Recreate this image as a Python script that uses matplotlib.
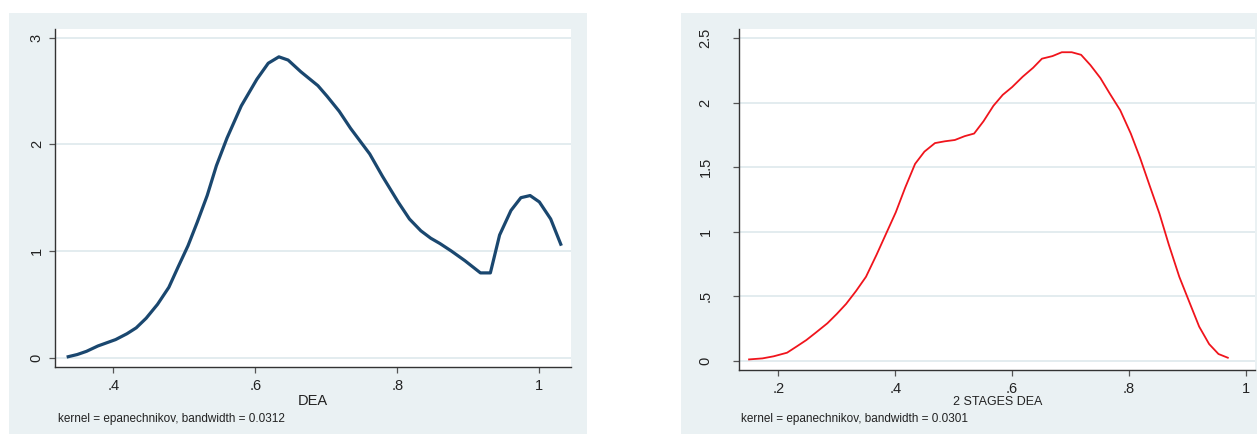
import matplotlib.pyplot as plt
from matplotlib.patches import Rectangle

plt.rcParams['font.family'] = ['Liberation Sans', 'DejaVu Sans']

# Densidad kernel de la eficiencia DEA (una etapa)
dea_x = [0.334, 0.349, 0.362, 0.378, 0.403, 0.419, 0.432, 0.446, 0.462, 0.478,
         0.491, 0.505, 0.518, 0.532, 0.545, 0.560, 0.580, 0.602, 0.618, 0.633,
         0.646, 0.664, 0.688, 0.701, 0.718, 0.734, 0.761, 0.779, 0.801, 0.817,
         0.833, 0.847, 0.860, 0.876, 0.895, 0.917, 0.931, 0.944, 0.960, 0.974,
         0.987, 1.000, 1.016, 1.031]
dea_y = [0.006, 0.03, 0.06, 0.11, 0.17, 0.225, 0.28, 0.37, 0.50, 0.66,
         0.85, 1.05, 1.27, 1.52, 1.80, 2.06, 2.36, 2.61, 2.76, 2.82,
         2.79, 2.68, 2.55, 2.45, 2.31, 2.15, 1.91, 1.70, 1.46, 1.30,
         1.19, 1.12, 1.07, 1.00, 0.91, 0.795, 0.795, 1.15, 1.38, 1.50,
         1.52, 1.46, 1.30, 1.05]

# Densidad kernel de la eficiencia DEA en dos etapas
dea2_x = [0.150, 0.173, 0.192, 0.215, 0.231, 0.248, 0.264, 0.284, 0.300, 0.316,
          0.333, 0.350, 0.368, 0.385, 0.401, 0.417, 0.434, 0.450, 0.468, 0.485,
          0.502, 0.519, 0.535, 0.551, 0.568, 0.584, 0.600, 0.618, 0.636, 0.651,
          0.669, 0.685, 0.702, 0.718, 0.734, 0.751, 0.767, 0.785, 0.803, 0.819,
          0.835, 0.852, 0.868, 0.886, 0.904, 0.920, 0.937, 0.953, 0.969]
dea2_y = [0.01, 0.018, 0.034, 0.062, 0.109, 0.16, 0.217, 0.29, 0.362, 0.44,
          0.54, 0.65, 0.82, 0.99, 1.15, 1.34, 1.525, 1.62, 1.686, 1.70,
          1.71, 1.74, 1.76, 1.855, 1.975, 2.06, 2.12, 2.20, 2.27, 2.34,
          2.36, 2.39, 2.39, 2.37, 2.29, 2.19, 2.07, 1.94, 1.76, 1.57,
          1.36, 1.14, 0.90, 0.65, 0.445, 0.264, 0.129, 0.052, 0.023]

left_xticks = [0.4, 0.6, 0.8, 1.0]
left_xlabels = ['.4', '.6', '.8', '1']
left_yticks = [0, 1, 2, 3]
left_ylabels = ['0', '1', '2', '3']
right_xticks = [0.2, 0.4, 0.6, 0.8, 1.0]
right_xlabels = ['.2', '.4', '.6', '.8', '1']
right_yticks = [0, 0.5, 1, 1.5, 2, 2.5]
right_ylabels = ['0', '.5', '1', '1.5', '2', '2.5']

W, H = 1257, 434
BG = '#EAF1F3'
GRID = '#E3ECEF'
AXC = '#333333'

fig = plt.figure(figsize=(W / 100, H / 100), dpi=100, facecolor='white')

# Fondos de cada gráfico (en píxeles), por debajo de los ejes
for x0, x1 in [(9, 587), (681, 1262)]:
    fig.patches.append(Rectangle((x0 / W, 0), (x1 - x0) / W, (434 - 13) / H,
                                 transform=fig.transFigure, facecolor=BG,
                                 edgecolor='none', zorder=-10))


def make_axes(l, r, t, b):
    ax = fig.add_axes([l / W, (H - b) / H, (r - l) / W, (b - t) / H])
    ax.set_zorder(1)
    ax.set_facecolor('white')
    for s in ['top', 'right']:
        ax.spines[s].set_visible(False)
    for s in ['left', 'bottom']:
        ax.spines[s].set_color(AXC)
        ax.spines[s].set_linewidth(1.0)
    ax.tick_params(length=4.3, width=0.9, color='#555555', labelcolor='#222222',
                   labelsize=10.5)
    ax.grid(axis='y', color=GRID, linewidth=1.4)
    ax.set_axisbelow(True)
    return ax


ax1 = make_axes(55.3, 571, 29, 367)
ax1.plot(dea_x, dea_y, color='#1A476F', linewidth=2.3, solid_capstyle='butt')
ax1.set_xlim(0.318, 1.0446)
ax1.set_ylim(-0.087, 3.081)
ax1.set_xticks(left_xticks, left_xlabels)
ax1.set_yticks(left_yticks, left_ylabels, rotation=90, va='center')
ax1.tick_params(axis='y', pad=4)
ax1.tick_params(axis='x', pad=4)
ax1.set_xlabel('DEA', fontsize=10.5, labelpad=1, color='#222222')
fig.text(58 / W, 1 - 419 / H, 'kernel = epanechnikov, bandwidth = 0.0312',
         fontsize=8.5, va='center', ha='left', color='#222222')

ax2 = make_axes(739.3, 1255.3, 29, 370)
ax2.plot(dea2_x, dea2_y, color='#F0141C', linewidth=1.3)
ax2.set_xlim(0.1333, 1.016)
ax2.set_ylim(-0.072, 2.57)
ax2.set_xticks(right_xticks, right_xlabels)
ax2.set_yticks(right_yticks, right_ylabels, rotation=90, va='center')
ax2.tick_params(axis='y', pad=15)
ax2.tick_params(axis='x', pad=4)
ax2.set_xlabel('2 STAGES DEA', fontsize=9, labelpad=0, color='#222222')
fig.text(741 / W, 1 - 419 / H, 'kernel = epanechnikov, bandwidth = 0.0301',
         fontsize=8.5, va='center', ha='left', color='#222222')

fig.savefig('out.png', dpi=100, facecolor='white')
